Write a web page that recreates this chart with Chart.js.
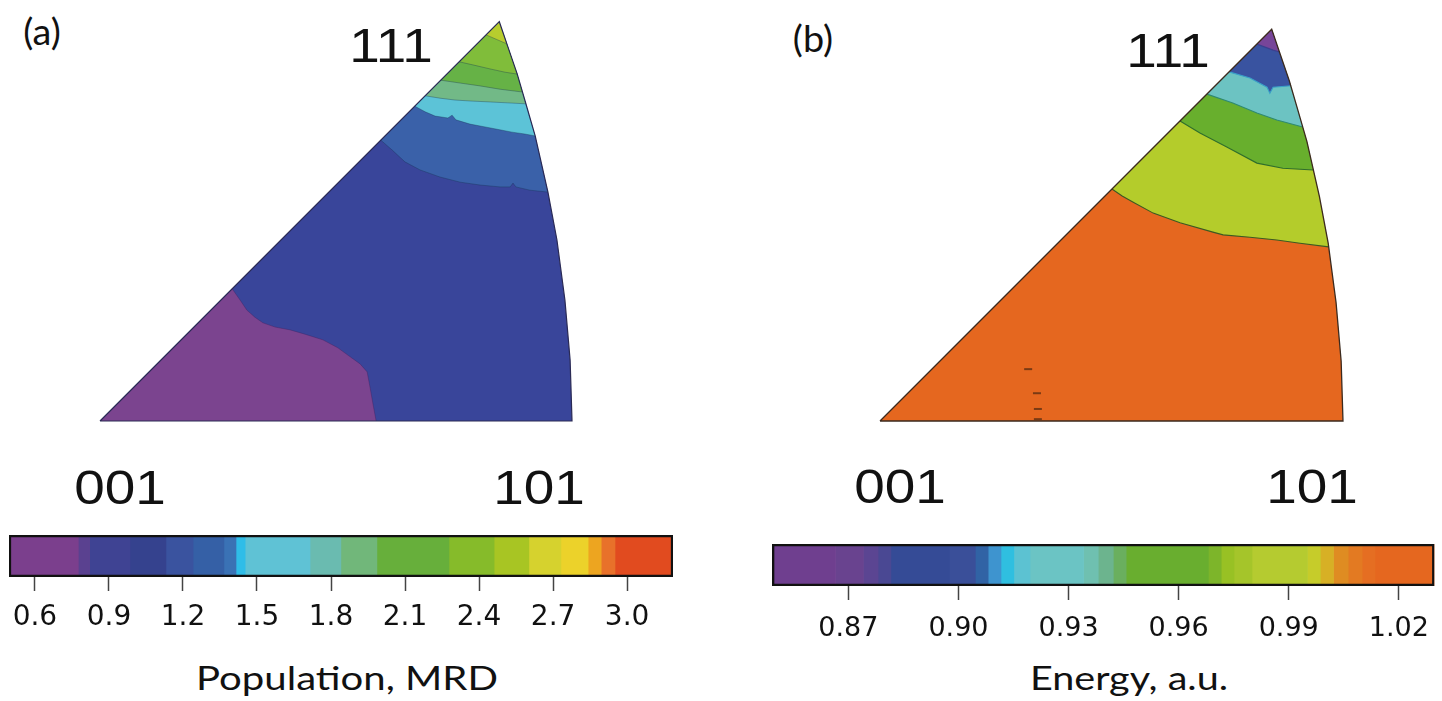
<!DOCTYPE html>
<html>
<head>
<meta charset="utf-8">
<script src="https://cdn.jsdelivr.net/npm/chart.js@4.4.1/dist/chart.umd.min.js"></script>
<style>
html,body{margin:0;padding:0;background:#fff;}
body{position:relative;width:1442px;height:701px;overflow:hidden;}
canvas{position:absolute;}
#ipfA{left:90px;top:10px;}
#ipfB{left:870px;top:10px;}
#barA{left:0px;top:520px;}
#barB{left:760px;top:525px;}
.t{position:absolute;line-height:1;white-space:nowrap;color:#111;transform:translate(-50%,-50%);}
.ipf{font-family:"Liberation Sans",Arial,sans-serif;font-size:49px;transform:translate(-50%,-50%) scaleX(1.12);}
.pan{font-family:Lato,"Open Sans",sans-serif;font-size:36px;transform:translate(-50%,-50%) scaleX(1.05);}
.cap{font-family:Lato,"Open Sans",sans-serif;font-size:33px;}
</style>
</head>
<body>
<canvas id="ipfA" width="492" height="425"></canvas>
<canvas id="ipfB" width="484" height="425"></canvas>
<canvas id="barA" width="700" height="120"></canvas>
<canvas id="barB" width="682" height="125"></canvas>

<div class="t pan" style="left:42px;top:31px">(a)</div>
<div class="t pan" style="left:813px;top:38px">(b)</div>
<div class="t ipf" style="left:391px;top:45px">111</div>
<div class="t ipf" style="left:120px;top:487px">001</div>
<div class="t ipf" style="left:539px;top:487px">101</div>
<div class="t ipf" style="left:1168px;top:50px">111</div>
<div class="t ipf" style="left:900px;top:486px">001</div>
<div class="t ipf" style="left:1312px;top:486px">101</div>
<div class="t cap" data-w="302" style="left:347px;top:677px">Population, MRD</div>
<div class="t cap" data-w="198" style="left:1129px;top:677px">Energy, a.u.</div>

<script>
// ---------- standard triangle (normalised: 001 at origin, 101 at x = 1) ----------
const ipf001 = [0, 0];
// 101 -> 111 great-circle edge
const ipfArc = [[1,0],[0.996,0.129],[0.985,0.256],[0.968,0.384],[0.949,0.485],[0.922,0.604],[0.900,0.680],[0.884,0.735],[0.862,0.799],[0.846,0.846]];

// ---------- (a) population contours ----------
const popContour09 = [[0.280,0.280],[0.297,0.256],[0.311,0.235],[0.328,0.220],[0.345,0.208],[0.371,0.199],[0.403,0.193],[0.434,0.184],[0.472,0.172],[0.504,0.155],[0.530,0.136],[0.551,0.121],[0.566,0.104],[0.572,0.072],[0.578,0.038],[0.585,0]];
const popContour12 = [[0.595,0.595],[0.619,0.574],[0.646,0.549],[0.678,0.532],[0.720,0.517],[0.763,0.506],[0.805,0.500],[0.847,0.496],[0.869,0.496],[0.875,0.504],[0.881,0.496],[0.911,0.489],[0.949,0.485]];
const popContour15 = [[0.667,0.667],[0.689,0.655],[0.710,0.646],[0.737,0.642],[0.746,0.648],[0.754,0.638],[0.784,0.629],[0.816,0.623],[0.847,0.617],[0.873,0.612],[0.900,0.608],[0.922,0.604]];
const popContour18 = [[0.689,0.689],[0.720,0.684],[0.752,0.680],[0.784,0.678],[0.826,0.676],[0.864,0.674],[0.902,0.672]];
const popContour21 = [[0.722,0.722],[0.763,0.716],[0.805,0.710],[0.847,0.703],[0.895,0.697]];
const popContour24 = [[0.761,0.761],[0.792,0.754],[0.826,0.746],[0.858,0.739],[0.884,0.735]];
const popContour27 = [[0.818,0.818],[0.839,0.809],[0.862,0.799]];
const popBaseColor = '#39459a';
const popLowColor = '#7b448f';
const popBandColors = ['#3a61a9','#5cc3d7','#72b987','#66b246','#80bd3a','#b8cd2e'];

// ---------- (b) energy contours ----------
const energyContour1 = [[0.501,0.501],[0.523,0.486],[0.546,0.473],[0.590,0.449],[0.648,0.428],[0.719,0.408],[0.741,0.402],[0.799,0.397],[0.857,0.391],[0.907,0.384],[0.969,0.376]];
const energyContour2 = [[0.648,0.648],[0.691,0.622],[0.749,0.592],[0.814,0.557],[0.870,0.546],[0.936,0.542]];
const energyContour3 = [[0.706,0.706],[0.762,0.687],[0.814,0.665],[0.857,0.650],[0.913,0.635]];
const energyContour4 = [[0.754,0.754],[0.799,0.741],[0.836,0.721],[0.842,0.708],[0.849,0.721],[0.888,0.724]];
const energyContour5 = [[0.814,0.814],[0.849,0.801],[0.863,0.797]];
const energySpecks = [[0.320,0.112],[0.339,0.060],[0.341,0.026],[0.341,0.004]];
const energyBaseColor = '#e5671f';
const energyBandColors = ['#b4cc2b','#68af2d','#6cc3c2','#3953a0','#774599'];

// ---------- colour bars ----------
const popBarEdges = [0.495,0.776,0.822,0.985,1.131,1.241,1.366,1.415,1.452,1.715,1.840,1.986,2.278,2.461,2.602,2.732,2.842,2.895,2.951,3.186];
const popBarColors = ['#7b3f8d','#5a4190','#3f4393','#35428e','#3a539f','#3560a6','#3a72b5','#2fbde8','#5fc2d5','#6abbb0','#71b77a','#67af3b','#86bb2a','#a8c523','#d6d22e','#ecd22a','#eda520','#e8712a','#e14b1f'];
const popTicks = [0.6,0.9,1.2,1.5,1.8,2.1,2.4,2.7,3.0];

const energyBarEdges = [0.8492,0.8665,0.8741,0.8781,0.8816,0.8976,0.9046,0.9081,0.9116,0.9151,0.9195,0.9341,0.9381,0.9422,0.9457,0.9681,0.9716,0.9751,0.9800,0.9951,0.9986,1.0022,1.0062,1.0100,1.0135,1.0297];
const energyBarColors = ['#6f3f8f','#69438f','#5b4592','#4a4893','#354b96','#3a4f99','#3163a5','#3e94cf','#2fbfe0','#5cc2d2','#6bc4c4','#6fc0b0','#6cb48e','#6aaf5e','#69ae2f','#7db52a','#98c124','#a5c52a','#b5cb30','#c6cc2a','#d7b025','#df8c22','#e37a22','#e56e22','#e5671f'];
const energyTicks = [0.87,0.90,0.93,0.96,0.99,1.02];

// ---------- helpers ----------
const pts = arr => arr.map(p => ({x: p[0], y: p[1]}));
const regionAbove = c => pts(c.concat(ipfArc.filter(p => p[1] > c[c.length - 1][1] + 0.003)));
const regionBelow = c => pts(c.concat([ipf001]));
const wholeTriangle = () => pts([ipf001].concat(ipfArc));
const outline = () => pts([ipf001].concat(ipfArc, [ipf001]));
const shape = (data, color) => ({data, backgroundColor: color, borderColor: 'transparent', borderWidth: 0, fill: 'shape', pointRadius: 0});
const stroke = (data, color, w) => ({data, borderColor: color, borderWidth: w, backgroundColor: 'transparent', fill: false, pointRadius: 0});

function ipfChart(id, frame, datasets) {
  datasets.forEach((d, i) => { d.order = -i; d.tension = 0; d.pointHoverRadius = 0; });
  const xmin = (frame.left - frame.originX) / frame.unit;
  const xmax = xmin + frame.width / frame.unit;
  const ymax = (frame.originY - frame.top) / frame.unit;
  const ymin = ymax - frame.height / frame.unit;
  new Chart(document.getElementById(id), {
    type: 'line',
    data: {datasets},
    options: {
      responsive: false, animation: false, events: [],
      layout: {padding: 0, autoPadding: false},
      plugins: {legend: {display: false}, tooltip: {enabled: false}},
      scales: {
        x: {type: 'linear', min: xmin, max: xmax, display: false},
        y: {type: 'linear', min: ymin, max: ymax, display: false}
      }
    }
  });
}

function colorbarChart(id, edges, colors, ticks, decimals, cfg) {
  const datasets = colors.map((c, i) => ({
    data: [[edges[i], edges[i + 1]]], backgroundColor: c, borderWidth: 0,
    grouped: false, barPercentage: 1, categoryPercentage: 1, order: 1
  }));
  datasets.push({
    data: [[edges[0], edges[edges.length - 1]]], backgroundColor: 'rgba(0,0,0,0)',
    borderColor: '#111', borderWidth: cfg.border, borderSkipped: false,
    grouped: false, barPercentage: 1, categoryPercentage: 1, order: 0
  });
  new Chart(document.getElementById(id), {
    type: 'bar',
    data: {labels: [''], datasets},
    options: {
      indexAxis: 'y', responsive: false, animation: false, events: [],
      layout: {padding: cfg.padding, autoPadding: false},
      plugins: {legend: {display: false}, tooltip: {enabled: false}},
      scales: {
        y: {display: false},
        x: {
          type: 'linear', position: 'bottom', min: edges[0], max: edges[edges.length - 1],
          afterBuildTicks: s => { s.ticks = ticks.map(v => ({value: v})); },
          afterFit: s => { s.height = cfg.axisH; },
          grid: {drawOnChartArea: false, drawTicks: true, tickLength: 14, tickWidth: 1.5, tickColor: '#444'},
          border: {display: false},
          ticks: {font: {family: 'DejaVu Sans', size: cfg.font}, color: '#111', padding: cfg.pad,
                  maxRotation: 0, autoSkip: false, callback: v => Number(v).toFixed(decimals)}
        }
      }
    }
  });
}

// ---------- panel (a) ----------
const popContours = [popContour12, popContour15, popContour18, popContour21, popContour24, popContour27];
const dsA = [shape(wholeTriangle(), popBaseColor), shape(regionBelow(popContour09), popLowColor)];
popContours.forEach((c, i) => dsA.push(shape(regionAbove(c), popBandColors[i])));
dsA.push(stroke(pts(popContour09), 'rgba(60,30,90,0.35)', 1));
popContours.forEach(c => dsA.push(stroke(pts(c), 'rgba(20,50,80,0.35)', 1)));
dsA.push(stroke(outline(), '#2a2a55', 1.2));
ipfChart('ipfA', {left: 90, top: 10, width: 492, height: 425, originX: 100, originY: 421, unit: 472}, dsA);

// ---------- panel (b) ----------
const energyContours = [energyContour1, energyContour2, energyContour3, energyContour4, energyContour5];
const dsB = [shape(wholeTriangle(), energyBaseColor)];
energyContours.forEach((c, i) => dsB.push(shape(regionAbove(c), energyBandColors[i])));
const energyLineColors = ['#3c5a22', '#2f6e2c', '#2f8a70', '#3aa0c8', '#3b3f8f'];
energyContours.forEach((c, i) => dsB.push(stroke(pts(c), energyLineColors[i], 1.1)));
dsB.push({data: pts(energySpecks), showLine: false, pointStyle: 'line', pointRadius: 4, borderWidth: 2,
          borderColor: '#7a3a14', backgroundColor: '#7a3a14', fill: false});
dsB.push(stroke(outline(), '#3b2a1e', 1.3));
ipfChart('ipfB', {left: 870, top: 10, width: 484, height: 425, originX: 880, originY: 421, unit: 463}, dsB);

// ---------- colour bars ----------
colorbarChart('barA', popBarEdges, popBarColors, popTicks, 1,
  {padding: {left: 9, right: 27, top: 15, bottom: 0}, axisH: 63, font: 28, pad: 10, border: 1.8});
colorbarChart('barB', energyBarEdges, energyBarColors, energyTicks, 2,
  {padding: {left: 12, right: 2, top: 19, bottom: 0}, axisH: 64, font: 27, pad: 13, border: 2});

// ---------- fit caption widths ----------
document.querySelectorAll('.cap').forEach(el => {
  const nat = el.getBoundingClientRect().width;
  const s = parseFloat(el.dataset.w) / nat;
  el.style.transform = 'translate(-50%,-50%) scaleX(' + s.toFixed(3) + ')';
});
</script>
</body>
</html>
